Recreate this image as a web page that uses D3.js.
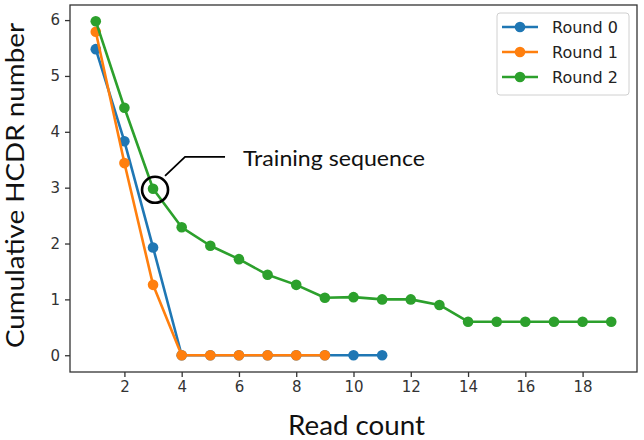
<!DOCTYPE html>
<html>
<head>
<meta charset="utf-8">
<script src="https://cdn.jsdelivr.net/npm/d3@7"></script>
<style>
  html, body { margin: 0; padding: 0; background: #fff; }
  svg { display: block; }
</style>
</head>
<body>
<div id="chart"></div>
<script>
// values
const seriesNames = ["Round 0", "Round 1", "Round 2"];
const seriesColors = ["#1f77b4", "#ff7f0e", "#2ca02c"];
const round0 = [5.48, 3.83, 1.93, 0, 0, 0, 0, 0, 0, 0, 0];
const round1 = [5.79, 3.44, 1.26, 0, 0, 0, 0, 0, 0];
const round2 = [5.98, 4.43, 2.98, 2.29, 1.96, 1.72, 1.44, 1.26, 1.03, 1.04, 1.0, 1.0, 0.9, 0.6, 0.6, 0.6, 0.6, 0.6, 0.6];
const xTicks = [2, 4, 6, 8, 10, 12, 14, 16, 18];
const yTicks = [0, 1, 2, 3, 4, 5, 6];
const annotationText = "Training sequence";
const annotatedPoint = { series: 2, x: 3 };

const width = 644, height = 440;
const frame = { left: 70, right: 637, top: 5, bottom: 372 };

const svg = d3.select("#chart").append("svg")
  .attr("width", width)
  .attr("height", height);

// matplotlib style limits with 5% margins
let x = d3.scaleLinear().domain([0.1, 19.9]).range([frame.left, frame.right]);
let y = d3.scaleLinear().domain([-0.3, 6.27]).range([frame.bottom, frame.top]);

const allSeries = [round0, round1, round2].map((vals, i) => ({
  name: seriesNames[i],
  color: seriesColors[i],
  points: vals.map((v, j) => ({ x: j + 1, y: v }))
}));

// axes
const xAxis = d3.axisBottom(x).tickValues(xTicks).tickFormat(d3.format("d")).tickSize(5).tickPadding(4);
const yAxis = d3.axisLeft(y).tickValues(yTicks).tickFormat(d3.format("d")).tickSize(5).tickPadding(5);

const gx = svg.append("g")
  .attr("transform", "translate(0," + frame.bottom + ")")
  .call(xAxis);
const gy = svg.append("g")
  .attr("transform", "translate(" + frame.left + ",0)")
  .call(yAxis);

[gx, gy].forEach(g => {
  g.select(".domain").remove();
  g.selectAll(".tick line").attr("stroke", "#333").attr("stroke-width", 1.3);
  g.selectAll(".tick text")
    .attr("fill", "#333")
    .style("font-family", "'DejaVu Sans', sans-serif")
    .style("font-size", "15px");
});

// series
const line = d3.line().x(d => x(d.x)).y(d => y(d.y));

const plot = svg.append("g");
allSeries.forEach(s => {
  const g = plot.append("g");
  g.append("path")
    .attr("d", line(s.points))
    .attr("fill", "none")
    .attr("stroke", s.color)
    .attr("stroke-width", 2.6)
    .attr("stroke-linejoin", "round");
  g.selectAll("circle")
    .data(s.points)
    .join("circle")
    .attr("cx", d => x(d.x))
    .attr("cy", d => y(d.y))
    .attr("r", 5.3)
    .attr("fill", s.color);
});

// frame
svg.append("rect")
  .attr("x", frame.left)
  .attr("y", frame.top)
  .attr("width", frame.right - frame.left)
  .attr("height", frame.bottom - frame.top)
  .attr("fill", "none")
  .attr("stroke", "#333")
  .attr("stroke-width", 1.3);

// legend
const legend = svg.append("g");
legend.append("rect")
  .attr("x", 497).attr("y", 13)
  .attr("width", 132).attr("height", 82)
  .attr("rx", 3)
  .attr("fill", "#fff").attr("fill-opacity", 0.8)
  .attr("stroke", "#d0d0d0").attr("stroke-width", 1);
allSeries.forEach((s, i) => {
  const ly = 27 + i * 25;
  legend.append("line")
    .attr("x1", 502).attr("x2", 538)
    .attr("y1", ly).attr("y2", ly)
    .attr("stroke", s.color).attr("stroke-width", 2.6);
  legend.append("circle")
    .attr("cx", 520).attr("cy", ly).attr("r", 5.3)
    .attr("fill", s.color);
  legend.append("text")
    .attr("x", 552).attr("y", ly)
    .attr("dy", "0.36em")
    .attr("fill", "#222")
    .style("font-family", "'DejaVu Sans', sans-serif")
    .style("font-size", "16px")
    .text(s.name);
});

// annotation
const ap = allSeries[annotatedPoint.series].points[annotatedPoint.x - 1];
const acx = x(ap.x) + 2, acy = y(ap.y) + 1;
svg.append("circle")
  .attr("cx", acx).attr("cy", acy).attr("r", 13)
  .attr("fill", "none").attr("stroke", "#000").attr("stroke-width", 2.6);
svg.append("path")
  .attr("d", "M" + (acx + 10) + "," + (acy - 14) + "L" + (acx + 30) + "," + (acy - 33) + "H" + (acx + 70))
  .attr("fill", "none").attr("stroke", "#000").attr("stroke-width", 1.8);
svg.append("text")
  .attr("x", 243).attr("y", 166)
  .attr("textLength", 182).attr("lengthAdjust", "spacingAndGlyphs")
  .style("font-family", "Lato, 'Open Sans', sans-serif")
  .style("font-size", "22px")
  .attr("fill", "#111")
  .text(annotationText);

// axis titles
svg.append("text")
  .attr("x", 288).attr("y", 435)
  .attr("textLength", 137).attr("lengthAdjust", "spacingAndGlyphs")
  .style("font-family", "Lato, 'Open Sans', sans-serif")
  .style("font-size", "26px")
  .attr("fill", "#111")
  .text("Read count");

svg.append("text")
  .attr("transform", "translate(24,348) rotate(-90)")
  .attr("textLength", 325).attr("lengthAdjust", "spacingAndGlyphs")
  .style("font-family", "Lato, 'Open Sans', sans-serif")
  .style("font-size", "25px")
  .attr("fill", "#111")
  .text("Cumulative HCDR number");
</script>
</body>
</html>
